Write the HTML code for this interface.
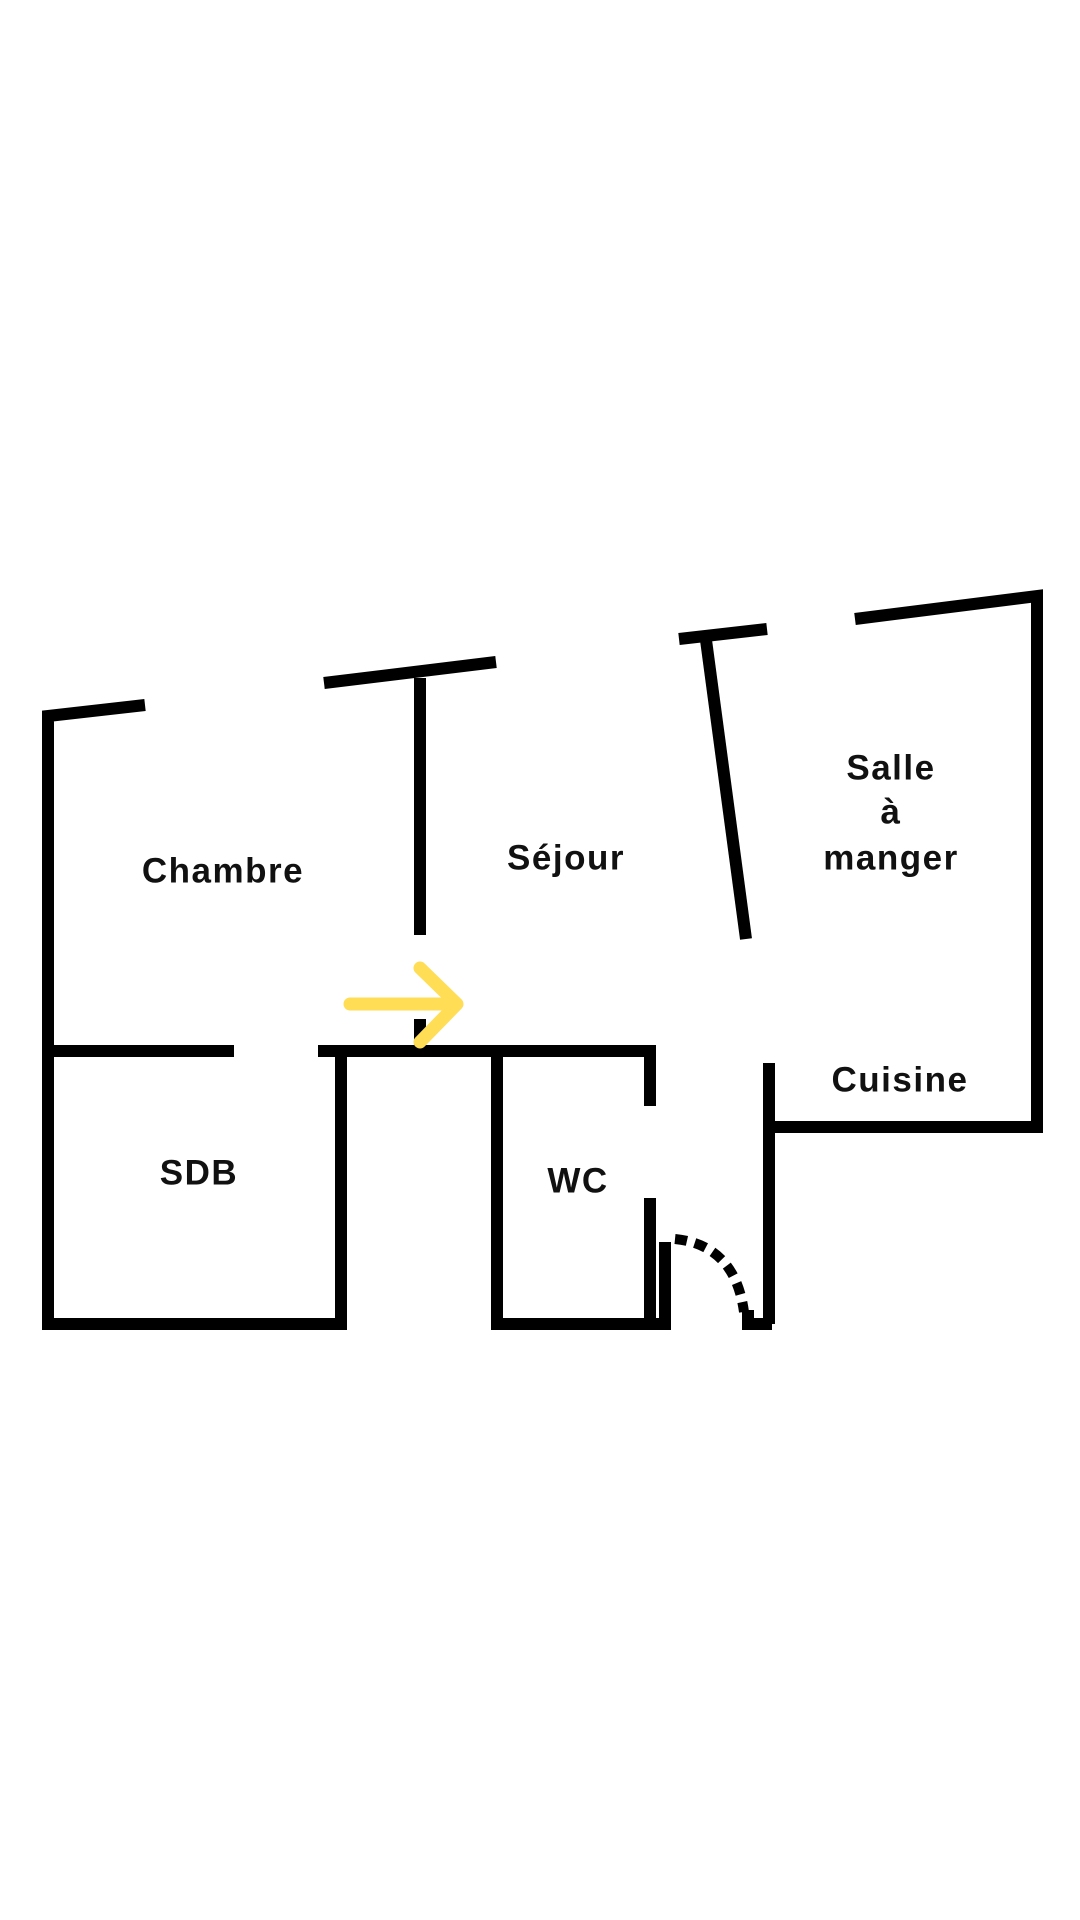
<!DOCTYPE html>
<html><head><meta charset="utf-8"><style>
html,body{margin:0;padding:0;background:#fff;}
svg{display:block}
text{font-family:"Liberation Sans",sans-serif;font-weight:bold;font-size:35px;letter-spacing:1.5px;text-anchor:middle;dominant-baseline:middle;fill:#111}
</style></head><body>
<svg width="1080" height="1920" viewBox="0 0 1080 1920" xmlns="http://www.w3.org/2000/svg">
<rect width="1080" height="1920" fill="#fff"/>
<g stroke="#000" stroke-width="12" fill="none" stroke-linecap="butt">
<polyline points="145,705 48,716 48,1324 341,1324 341,1051"/>
<line x1="324" y1="683" x2="496" y2="662"/>
<line x1="420" y1="678" x2="420" y2="935"/>
<line x1="420" y1="1019" x2="420" y2="1049"/>
<line x1="48" y1="1051" x2="234" y2="1051"/>
<polyline points="318,1051 650,1051 650,1106"/>
<polyline points="497,1051 497,1324 650,1324 650,1198"/>
<polyline points="665,1242 665,1324 650,1324"/>
<polyline points="748,1310 748,1324 772,1324"/>
<polyline points="769,1063 769,1324"/>
<polyline points="769,1127 1037,1127 1037,596 855,619"/>
<line x1="679" y1="639" x2="767" y2="629"/>
<line x1="706" y1="640" x2="746" y2="939"/>
<path d="M675,1239 Q735,1245 744,1312" stroke-dasharray="12,8" stroke-width="10"/>
</g>
<g stroke="#FFDD55" stroke-width="13" fill="none" stroke-linecap="round" stroke-linejoin="round">
<line x1="350" y1="1004" x2="455" y2="1004"/>
<polyline points="420,968 457,1004 420,1042"/>
</g>
<text x="223" y="873">Chambre</text>
<text x="566" y="860">Séjour</text>
<text x="891" y="770">Salle</text>
<text x="891" y="814">à</text>
<text x="891" y="860">manger</text>
<text x="900" y="1082">Cuisine</text>
<text x="199" y="1175">SDB</text>
<text x="578" y="1183">WC</text>
</svg>
</body></html>
